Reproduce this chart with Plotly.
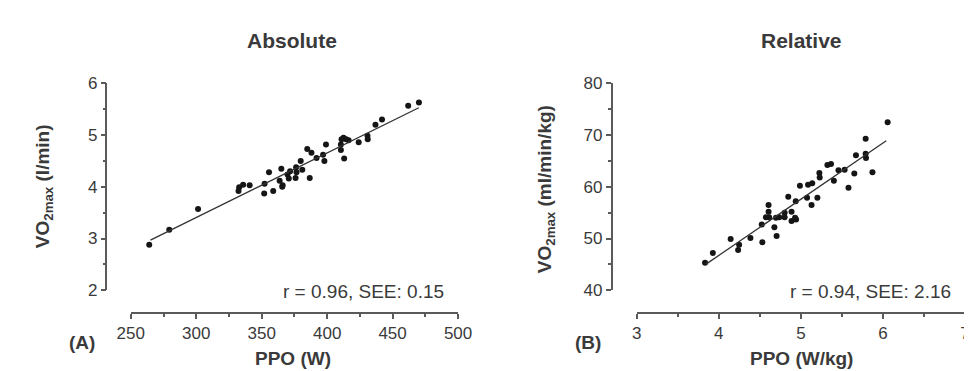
import plotly.graph_objects as go

W, H = 972, 371

# ---------------- Data ----------------
abs_ppo = [264.1, 279.4, 301.4, 332.3, 332.8, 335.8, 340.8, 351.9, 352.2, 355.6,
           358.8, 363.7, 365.0, 365.7, 366.0, 369.7, 370.7, 371.7, 375.9, 376.3,
           376.6, 379.8, 381.0, 384.8, 386.7, 388.0, 391.9, 396.9, 397.9, 399.1,
           410.5, 410.5, 411.0, 412.5, 413.0, 414.5, 416.4, 424.1, 430.8, 431.0,
           436.9, 441.9, 461.9, 470.1]
abs_vo2 = [2.88, 3.17, 3.57, 3.92, 3.99, 4.04, 4.03, 3.87, 4.06, 4.28,
           3.92, 4.12, 4.35, 4.00, 4.03, 4.24, 4.16, 4.30, 4.17, 4.38,
           4.28, 4.50, 4.33, 4.73, 4.17, 4.66, 4.56, 4.62, 4.50, 4.82,
           4.82, 4.71, 4.92, 4.95, 4.55, 4.92, 4.90, 4.86, 4.99, 4.92,
           5.20, 5.30, 5.57, 5.63]
abs_fit_x = [265, 470]
abs_fit_y = [2.97, 5.53]

rel_ppo = [3.832, 3.927, 4.144, 4.235, 4.247, 4.385, 4.523, 4.530, 4.574, 4.606,
           4.606, 4.613, 4.677, 4.696, 4.704, 4.736, 4.802, 4.802, 4.846, 4.886,
           4.886, 4.929, 4.941, 4.937, 4.988, 5.075, 5.087, 5.130, 5.138, 5.201,
           5.225, 5.229, 5.323, 5.367, 5.402, 5.458, 5.533, 5.580, 5.651, 5.671,
           5.789, 5.789, 5.793, 5.872, 6.057]
rel_vo2 = [45.3, 47.2, 49.9, 47.8, 48.8, 50.1, 52.7, 49.3, 54.1, 56.5,
           55.2, 54.1, 52.2, 54.0, 50.5, 54.1, 54.1, 55.0, 58.1, 55.2,
           53.4, 54.0, 53.7, 57.2, 60.2, 57.9, 60.4, 56.5, 60.7, 57.9,
           62.7, 61.8, 64.2, 64.4, 61.2, 63.2, 63.3, 59.8, 62.6, 66.1,
           69.3, 66.4, 65.6, 62.8, 72.5]
rel_fit_x = [3.84, 6.04]
rel_fit_y = [45.0, 68.9]

titles = ["Absolute", "Relative"]
x_titles = ["PPO (W)", "PPO (W/kg)"]
y_titles = ["VO<sub>2max</sub> (l/min)", "VO<sub>2max</sub> (ml/min/kg)"]
stats = ["r = 0.96, SEE: 0.15", "r = 0.94, SEE: 2.16"]
panel_labels = ["(A)", "(B)"]


def px(x):
    return x / W


def py(y):
    return 1 - y / H


AXC = "#5a5a5a"
TXC = "#3a3a3a"
FONT = "Liberation Sans, Arial, sans-serif"

fig = go.Figure()

fig.add_trace(go.Scatter(x=abs_ppo, y=abs_vo2, mode="markers",
                         marker=dict(size=6, color="#151515"),
                         xaxis="x", yaxis="y", showlegend=False))
fig.add_trace(go.Scatter(x=abs_fit_x, y=abs_fit_y, mode="lines",
                         line=dict(color="#333333", width=1.3),
                         xaxis="x", yaxis="y", showlegend=False))
fig.add_trace(go.Scatter(x=rel_ppo, y=rel_vo2, mode="markers",
                         marker=dict(size=6, color="#151515"),
                         xaxis="x2", yaxis="y2", showlegend=False))
fig.add_trace(go.Scatter(x=rel_fit_x, y=rel_fit_y, mode="lines",
                         line=dict(color="#333333", width=1.3),
                         xaxis="x2", yaxis="y2", showlegend=False))

common = dict(showline=True, linecolor=AXC, linewidth=1.5, ticks="outside",
              ticklen=5, tickwidth=1.5, tickcolor=AXC, showgrid=False,
              zeroline=False, anchor="free",
              tickfont=dict(family=FONT, size=17, color=TXC))

x_axis_y = py(312)
fig.update_layout(
    width=W, height=H,
    margin=dict(l=0, r=0, t=0, b=0),
    paper_bgcolor="white", plot_bgcolor="white",
    xaxis=dict(domain=[px(112), px(449)], range=[250, 500], dtick=50,
               position=x_axis_y,
               minor=dict(dtick=25, ticks="outside", ticklen=3, tickwidth=1.5, tickcolor=AXC),
               **common),
    yaxis=dict(domain=[py(288), py(70)], range=[2, 6], dtick=1,
               position=px(87),
               minor=dict(dtick=0.5, ticks="outside", ticklen=3, tickwidth=1.5, tickcolor=AXC),
               **common),
    xaxis2=dict(domain=[px(633), px(971)], range=[3, 7], dtick=1,
                position=x_axis_y,
                minor=dict(dtick=0.5, ticks="outside", ticklen=3, tickwidth=1.5, tickcolor=AXC),
                **common),
    yaxis2=dict(domain=[py(288), py(70)], range=[40, 80], dtick=10,
                position=px(607),
                minor=dict(dtick=5, ticks="outside", ticklen=3, tickwidth=1.5, tickcolor=AXC),
                **common),
)

ann = []
# titles
for t, cx in zip(titles, [278, 803]):
    ann.append(dict(text=f"<b>{t}</b>", x=px(cx), y=py(25), xref="paper", yref="paper",
                    showarrow=False, xanchor="center", yanchor="middle",
                    font=dict(family=FONT, size=21, color=TXC)))
# x titles
for t, cx in zip(x_titles, [279, 803]):
    ann.append(dict(text=f"<b>{t}</b>", x=px(cx), y=py(360), xref="paper", yref="paper",
                    showarrow=False, xanchor="center", yanchor="middle",
                    font=dict(family=FONT, size=19, color=TXC)))
# y titles
for t, cx, cy in zip(y_titles, [23, 539], [178, 181]):
    ann.append(dict(text=f"<b>{t}</b>", x=px(cx), y=py(cy), xref="paper", yref="paper",
                    showarrow=False, xanchor="center", yanchor="middle", textangle=-90,
                    font=dict(family=FONT, size=19, color=TXC)))
# stats
for t, rx in zip(stats, [437, 959]):
    ann.append(dict(text=t, x=px(rx), y=py(289), xref="paper", yref="paper",
                    showarrow=False, xanchor="right", yanchor="middle",
                    font=dict(family=FONT, size=19, color=TXC)))
# panel labels
for t, cx in zip(panel_labels, [62, 583]):
    ann.append(dict(text=f"<b>{t}</b>", x=px(cx), y=py(343), xref="paper", yref="paper",
                    showarrow=False, xanchor="center", yanchor="middle",
                    font=dict(family=FONT, size=19, color=TXC)))

fig.update_layout(annotations=ann)

fig.write_html("out.html")
